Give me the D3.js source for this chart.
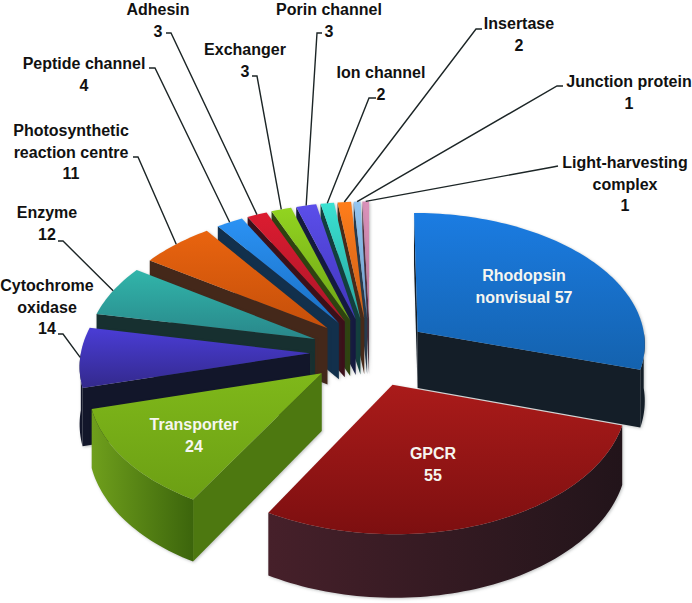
<!DOCTYPE html>
<html>
<head>
<meta charset="utf-8">
<style>
  html, body { margin: 0; padding: 0; background: #fff; }
  svg { display: block; }
  text { font-family: "Liberation Sans", Arial, sans-serif; font-weight: bold; text-anchor: middle; }
  .slice { filter: drop-shadow(1px 1px 1.5px rgba(40,50,50,0.3)); }
</style>
</head>
<body>
<div id="chart"></div>
<script src="https://cdn.jsdelivr.net/npm/d3@7"></script>
<script>
// Slices, clockwise from twelve o'clock
var categories = ['Rhodopsin nonvisual', 'GPCR', 'Transporter', 'Cytochrome oxidase', 'Enzyme',
    'Photosynthetic reaction centre', 'Peptide channel', 'Adhesin', 'Exchanger', 'Porin channel',
    'Ion channel', 'Insertase', 'Junction protein', 'Light-harvesting complex'];
var values = [57, 55, 24, 14, 12, 11, 4, 3, 3, 3, 2, 2, 1, 1];

// Text of each label, one entry per line
var labelLines = [
    ['Rhodopsin', 'nonvisual 57'], ['GPCR', '55'], ['Transporter', '24'], ['Cytochrome', 'oxidase', '14'],
    ['Enzyme', '12'], ['Photosynthetic', 'reaction centre', '11'], ['Peptide channel', '4'], ['Adhesin', '3'],
    ['Exchanger', '3'], ['Porin channel', '3'], ['Ion channel', '2'], ['Insertase', '2'],
    ['Junction protein', '1'], ['Light-harvesting', 'complex', '1']
];

// Colours: top face gradient (top, bottom), outer wall gradient (left, right), cut walls
var topStart = ['#1b7ce2', '#aa1b1a', '#7fb81a', '#4a3dd6', '#31b5aa', '#e9640f', '#2b92f4', '#dc1c30', '#92d420', '#5b4eea', '#3ae2d2', '#ff7d1a', '#94c6f0', '#da92ba'];
var topEnd   = ['#1462ae', '#7d0f10', '#6c9f14', '#33298c', '#29878a', '#c54f0a', '#1a70c4', '#ac1529', '#6ea416', '#4235bc', '#27a49e', '#cc5e18', '#6e9ecc', '#bc779c'];
var wallLeft  = ['#141e28', '#46202a', '#6f9f1c', '#12162a', '#173030', '#44281a', '#12304c', '#3c101a', '#2f4410', '#151a40', '#12403f', '#4a2a18', '#283c50', '#503040'];
var wallRight = ['#141e28', '#22141a', '#3c650c', '#12162a', '#173030', '#44281a', '#12304c', '#3c101a', '#2f4410', '#151a40', '#12403f', '#4a2a18', '#283c50', '#503040'];
var cutWall   = ['#141e28', '#2a161c', '#4d7810', '#12162a', '#173030', '#44281a', '#12304c', '#3c101a', '#2f4410', '#151a40', '#12403f', '#4a2a18', '#283c50', '#503040'];

// Label layout: centre x, first baseline, and the elbow of the leader line (start, bend)
// Adhesin and Porin channel sit at the very top, so their baseline leaves room for the font's ascent
var labelPos = [[524, 281], [433, 459], [194, 430], [47, 291], [47, 218], [71, 136], [84, 69], [158, 15], [245, 55], [329, 15], [381, 78], [519, 29], [629, 87], [625, 168]];
var elbows = [null, null, null, [[58, 334], [63, 334]], [[58, 241], [63, 241]], [[133, 157], [138, 157]],
    [[149, 68], [155, 68]], [[166, 33], [171, 33]], [[252, 76], [257, 76]], [[322, 33], [317, 33]],
    [[376, 98], [369, 98]], [[482, 29], [476, 29]], [[563, 86], [557, 86]], [[558, 166], [553, 167]]];

var width = 692, height = 603;

// Ground plane set-up
var cx = 370, cy = 352;      // pie centre on screen
var radius = 229;            // slice radius
var explode = 60;            // how far each slice is pulled out
var depth = 57;              // wall height
var tilt = 0.575;            // squash of the ground plane
var camera = 2800;           // smaller = stronger perspective

// Ground point (x right, y toward viewer, h down) to screen
function project( x, y, h ){
    var s = camera / ( camera - y );
    return [ cx + x * s, cy + tilt * y * s + h * s ];
}

// Point of slice d at angle a and distance r from its own apex
function slicePoint( d, a, r, h ){
    var mid = ( d.startAngle + d.endAngle ) / 2;
    var x = explode * Math.sin( mid ) + r * Math.sin( a );
    var y = -explode * Math.cos( mid ) - r * Math.cos( a );
    return project( x, y, h );
}

var svg = d3.select('#chart').append('svg').attr('width', width).attr('height', height);
var defs = svg.append('defs');
var line = d3.line();

var slices = d3.pie().sort(null).value(function(d){ return d; })(values);

function addGradient( id, horizontal, c1, c2 ){
    var g = defs.append('linearGradient').attr('id', id)
        .attr('x1', 0).attr('y1', 0)
        .attr('x2', horizontal ? 1 : 0).attr('y2', horizontal ? 0 : 1);
    g.append('stop').attr('offset', '0%').attr('stop-color', c1);
    g.append('stop').attr('offset', '100%').attr('stop-color', c2);
}

// Points along the arc of a slice, between angles a0 and a1
function arcPoints( d, a0, a1, h ){
    var n = Math.max( 2, Math.ceil( ( a1 - a0 ) * 40 ) );
    return d3.range( n + 1 ).map( function(i){
        return slicePoint( d, a0 + ( a1 - a0 ) * i / n, radius, h );
    });
}

// Signed area, used to drop the cut walls that face away
function isFacing( pts ){
    return d3.polygonArea( pts ) > 0;
}

function drawSlice( d, i ){
    var g = svg.append('g').attr('class', 'slice');
    addGradient( 'top' + i, false, topStart[i], topEnd[i] );
    addGradient( 'wall' + i, true, wallLeft[i], wallRight[i] );

    var apex = slicePoint( d, d.startAngle, 0, 0 );
    var apexLow = slicePoint( d, d.startAngle, 0, depth );

    // Cut walls: the quad along the start edge and along the end edge
    var startTop = slicePoint( d, d.startAngle, radius, 0 ), startLow = slicePoint( d, d.startAngle, radius, depth );
    var endTop = slicePoint( d, d.endAngle, radius, 0 ), endLow = slicePoint( d, d.endAngle, radius, depth );
    var startQuad = [ apex, startTop, startLow, apexLow ];
    var endQuad = [ endTop, apex, apexLow, endLow ];
    [ startQuad, endQuad ].forEach( function(q){
        if( isFacing( q ) ){
            g.append('path').attr('d', line( q ) + 'Z').attr('fill', cutWall[i]);
        }
    });

    // Outer wall: only the part of the arc turned toward the viewer
    var a0 = Math.max( d.startAngle, Math.PI / 2 ), a1 = Math.min( d.endAngle, Math.PI * 1.5 );
    if( a1 > a0 ){
        var wall = arcPoints( d, a0, a1, 0 ).concat( arcPoints( d, a0, a1, depth ).reverse() );
        g.append('path').attr('d', line( wall ) + 'Z').attr('fill', 'url(#wall' + i + ')');
    }

    // Top face
    var face = [ apex ].concat( arcPoints( d, d.startAngle, d.endAngle, 0 ) );
    g.append('path').attr('d', line( face ) + 'Z').attr('fill', 'url(#top' + i + ')');
}

// Back to front: the fan first, then the big slices
var drawOrder = [ 13, 12, 11, 10, 9, 8, 7, 6, 5, 4, 3, 0, 2, 1 ];
drawOrder.forEach( function(i){ drawSlice( slices[i], i ); });

// Leader lines run from the elbow to the middle of the slice's rim
slices.forEach( function( d, i ){
    if( !elbows[i] ) return;
    var mid = ( d.startAngle + d.endAngle ) / 2;
    svg.append('path')
        .attr('d', line( elbows[i].concat( [ slicePoint( d, mid, radius, 0 ) ] ) ))
        .attr('fill', 'none')
        .attr('stroke', '#1c2526')
        .attr('stroke-width', 1.4);
});

// Labels
labelLines.forEach( function( lines, i ){
    var t = svg.append('text').attr('font-size', 16)
        .attr('fill', elbows[i] ? '#111' : '#f6f6f0');
    lines.forEach( function( s, j ){
        t.append('tspan').attr('x', labelPos[i][0]).attr('y', labelPos[i][1] + j * 21.5).text( s );
    });
});
</script>
</body>
</html>
